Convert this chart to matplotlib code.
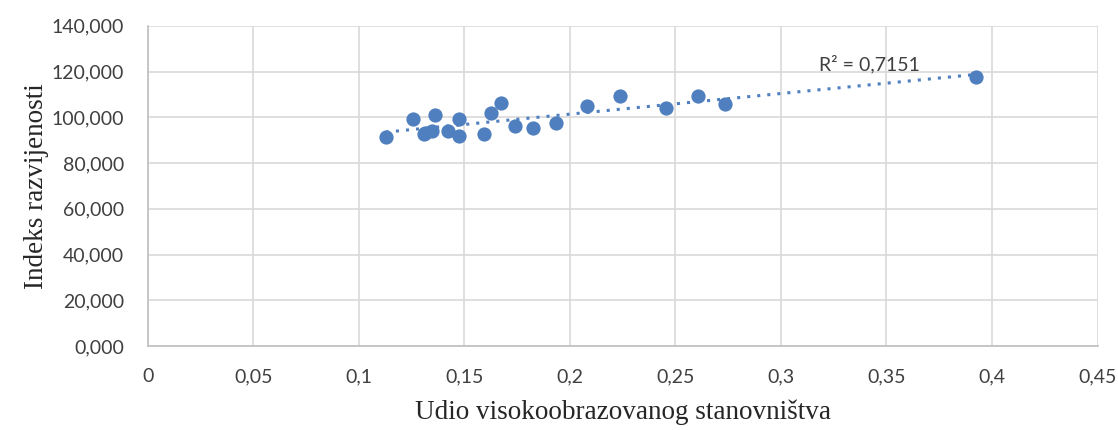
import numpy as np
import matplotlib
matplotlib.use('Agg')
import matplotlib.pyplot as plt
from matplotlib.ticker import FuncFormatter

# udio visokoobrazovanog stanovnistva vs indeks razvijenosti
udio = [0.1129, 0.1257, 0.1309, 0.1314, 0.1345, 0.1360, 0.1424, 0.1476, 0.1476,
        0.1593, 0.1626, 0.1672, 0.1740, 0.1827, 0.1934, 0.2080, 0.2240, 0.2458,
        0.2608, 0.2734, 0.3923]
indeks = [91.4, 99.3, 92.7, 93.3, 94.0, 100.9, 94.0, 99.2, 91.9,
          92.9, 101.8, 106.3, 96.2, 95.2, 97.6, 105.0, 109.4, 104.0,
          109.4, 105.7, 117.7]
x_ticks = [0, 0.05, 0.1, 0.15, 0.2, 0.25, 0.3, 0.35, 0.4, 0.45]
y_ticks = [0, 20, 40, 60, 80, 100, 120, 140]
r2_label = 'R² = 0,7151'

BLUE = '#4F7FBF'
GRID = '#D9D9D9'
TICKFONT = 'Lato'

x = np.array(udio)
y = np.array(indeks)

fig = plt.figure(figsize=(11.18, 4.3), dpi=100)
ax = fig.add_axes([0.132, 0.195, 0.8497, 0.745])

ax.scatter(x, y, s=105, color=BLUE, zorder=3, linewidths=0)

k, b = np.polyfit(x, y, 1)
xs = np.array([x.min(), x.max()])
ax.plot(xs, k * xs + b, color=BLUE, lw=2.2, linestyle=(0, (1, 2.3)), zorder=2)
ax.text(0.318, 119.3, r2_label, fontsize=14, family=TICKFONT, color='#404040',
        ha='left', va='bottom', zorder=4)

ax.set_xlim(0, 0.45)
ax.set_ylim(0, 140)
ax.set_xticks(x_ticks)
ax.set_yticks(y_ticks)
ax.xaxis.set_major_formatter(FuncFormatter(lambda v, p: '0' if v == 0 else ('%g' % v).replace('.', ',')))
ax.yaxis.set_major_formatter(FuncFormatter(lambda v, p: '{:,.3f}'.format(v).replace('.', ',')))
ax.grid(True, color=GRID, lw=1.2)
ax.set_axisbelow(True)
for s in ['top', 'right']:
    ax.spines[s].set_visible(False)
for s in ['left', 'bottom']:
    ax.spines[s].set_color('#BFBFBF')
    ax.spines[s].set_linewidth(1.2)
ax.tick_params(length=0, labelsize=14, labelcolor='#404040')
ax.tick_params(axis='y', pad=17)
ax.tick_params(axis='x', pad=16)
for lab in ax.get_xticklabels() + ax.get_yticklabels():
    lab.set_family(TICKFONT)

ax.set_xlabel('Udio visokoobrazovanog stanovništva', family='Liberation Serif', fontsize=19.5,
              color='#262626', labelpad=10)
ax.set_ylabel('Indeks razvijenosti', family='Liberation Serif', fontsize=19.5,
              color='#262626', labelpad=2)

fig.savefig('out.png', dpi=100, facecolor='white')
